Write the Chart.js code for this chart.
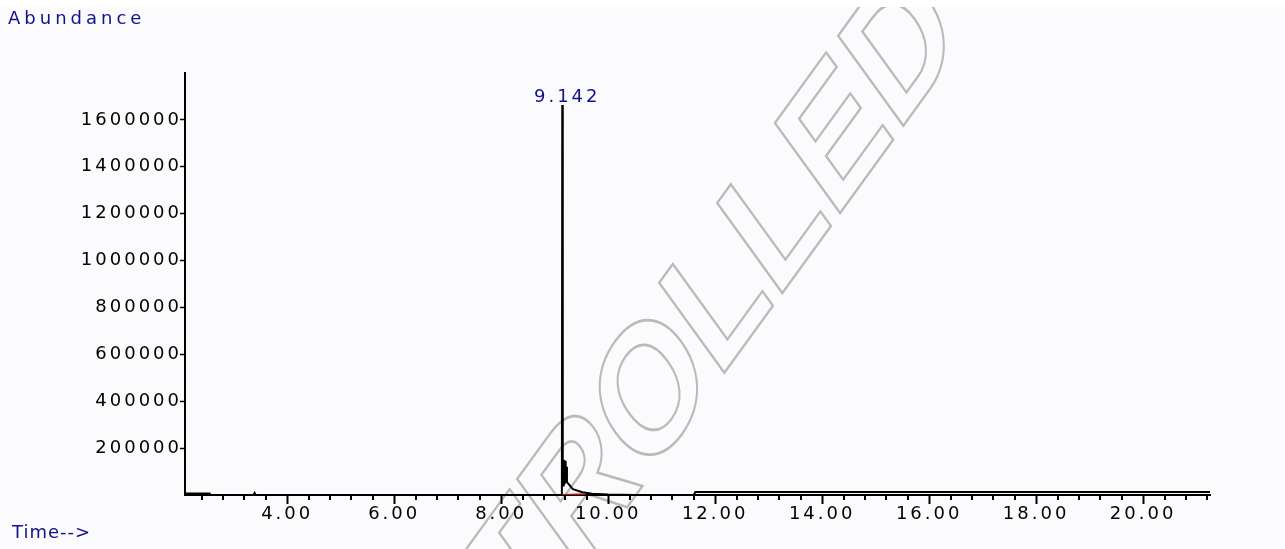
<!DOCTYPE html>
<html>
<head>
<meta charset="utf-8">
<script src="https://cdn.jsdelivr.net/npm/chart.js@4/dist/chart.umd.min.js"></script>
<style>
  html, body { margin: 0; padding: 0; background: #ffffff; }
  #wrap { width: 1285px; height: 549px; }
</style>
</head>
<body>
<div id="wrap"><canvas id="tic" width="1285" height="549"></canvas></div>
<script>
// total ion chromatogram
const timeMin = [2.09, 2.55, 2.57, 3.37, 3.39, 3.41, 9.12, 9.135, 9.142, 9.148, 9.155, 9.162, 9.17, 9.178, 9.186, 9.194, 9.202, 9.21, 9.22, 9.23, 9.34, 9.52, 9.7, 10.0, 10.5, 11.6, 11.63, 21.25];
const abundance = [6000, 6000, 0, 0, 9000, 0, 0, 20000, 1664000, 40000, 150000, 40000, 150000, 50000, 148000, 55000, 145000, 60000, 120000, 55000, 25000, 12000, 5000, 2000, 0, 0, 13000, 13000];

// integration baseline (red)
const baseTime = [9.14, 9.3, 9.57];
const baseAbundance = [500, 1500, 3000];

const xMajorTicks = [4, 6, 8, 10, 12, 14, 16, 18, 20];
const xMinorStep = 0.4;
const yTicks = [200000, 400000, 600000, 800000, 1000000, 1200000, 1400000, 1600000];

const NAVY = '#12128a';
const FONT = { family: '"DejaVu Sans", Verdana, sans-serif', size: 18 };

const toPoints = (xs, ys) => xs.map((x, i) => ({ x, y: ys[i] }));

const gcmsPlugin = {
  id: 'gcms',
  beforeUpdate(chart) {
    chart.ctx.letterSpacing = '3px';
  },
  beforeDraw(chart) {
    const { ctx, width, height } = chart;
    ctx.letterSpacing = '3px';
    ctx.save();
    ctx.fillStyle = '#fbfbfd';
    ctx.fillRect(0, 7, width, height - 7);
    ctx.beginPath();
    ctx.rect(0, 7, width, height - 7);
    ctx.clip();

    // watermark
    ctx.letterSpacing = '0px';
    const size = 134;
    const k = 1.38;
    ctx.font = `bold ${size}px "Liberation Sans", Arial, sans-serif`;
    const uL = ctx.measureText('UNCONTRO').width + 0.073 * size;
    const ox = 725 - uL / Math.SQRT2;
    const oy = 372 + (k * uL) / Math.SQRT2;
    ctx.translate(ox, oy);
    ctx.scale(1, k);
    ctx.rotate(-Math.PI / 4);
    ctx.strokeStyle = '#bababa';
    ctx.lineWidth = 2;
    ctx.lineJoin = 'miter';
    ctx.textBaseline = 'alphabetic';
    ctx.strokeText('UNCONTROLLED', 0, 0);
    ctx.restore();
  },
  afterDraw(chart) {
    const { ctx } = chart;
    const xs = chart.scales.x;
    const ys = chart.scales.y;
    const bottom = chart.chartArea.bottom;

    ctx.save();
    // minor ticks
    ctx.strokeStyle = '#000';
    ctx.lineWidth = 2;
    ctx.beginPath();
    for (let i = 1; i * xMinorStep <= xs.max; i += 1) {
      const t = Math.round(i * xMinorStep * 100) / 100;
      if (t < xs.min || xMajorTicks.includes(t)) continue;
      const px = Math.round(xs.getPixelForValue(t));
      ctx.moveTo(px, bottom);
      ctx.lineTo(px, bottom + 5);
    }
    ctx.stroke();

    ctx.font = `${FONT.size}px ${FONT.family}`;
    ctx.fillStyle = NAVY;
    ctx.textAlign = 'left';
    ctx.textBaseline = 'alphabetic';
    ctx.letterSpacing = '4px';
    ctx.fillText('Abundance', 8, 24);
    ctx.letterSpacing = '1px';
    ctx.fillText('Time-->', 12, 538);

    // peak label
    let top = 0;
    abundance.forEach((v, i) => { if (v > abundance[top]) top = i; });
    const px = xs.getPixelForValue(timeMin[top]);
    const py = ys.getPixelForValue(abundance[top]);
    ctx.letterSpacing = '3px';
    ctx.textAlign = 'center';
    ctx.fillText(timeMin[top].toFixed(3), px + 5, py - 3);
    ctx.restore();
  },
};

const ctx = document.getElementById('tic').getContext('2d');
// eslint-disable-next-line no-undef, no-unused-vars
const chart = new Chart(ctx, {
  type: 'line',
  data: {
    datasets: [
      {
        data: toPoints(baseTime, baseAbundance),
        borderColor: '#b01414',
        borderWidth: 2,
        pointRadius: 0,
        tension: 0,
      },
      {
        data: toPoints(timeMin, abundance),
        borderColor: '#000000',
        borderWidth: 2,
        pointRadius: 0,
        tension: 0,
      },
    ],
  },
  options: {
    responsive: false,
    animation: false,
    events: [],
    layout: { autoPadding: false, padding: { top: 73, right: 75, left: 0, bottom: 0 } },
    plugins: { legend: { display: false }, tooltip: { enabled: false } },
    scales: {
      x: {
        type: 'linear',
        min: 2.09,
        max: 21.25,
        afterBuildTicks: (scale) => { scale.ticks = xMajorTicks.map((value) => ({ value })); },
        afterFit: (scale) => { scale.height = 54; },
        border: { color: '#000', width: 2 },
        grid: { drawOnChartArea: false, drawTicks: true, tickLength: 9, tickColor: '#000', tickWidth: 2 },
        ticks: {
          color: '#000',
          font: FONT,
          padding: 0,
          maxRotation: 0,
          autoSkip: false,
          callback: (v) => Number(v).toFixed(2),
        },
      },
      y: {
        min: 0,
        max: 1800000,
        afterBuildTicks: (scale) => { scale.ticks = yTicks.map((value) => ({ value })); },
        afterFit: (scale) => { scale.width = 185; },
        border: { color: '#000', width: 2 },
        grid: { drawOnChartArea: false, drawTicks: true, tickLength: 5, tickColor: '#000', tickWidth: 1.5 },
        ticks: {
          color: '#000',
          font: FONT,
          padding: -2,
          autoSkip: false,
          callback: (v) => String(v),
        },
      },
    },
  },
  plugins: [gcmsPlugin],
});
</script>
</body>
</html>
